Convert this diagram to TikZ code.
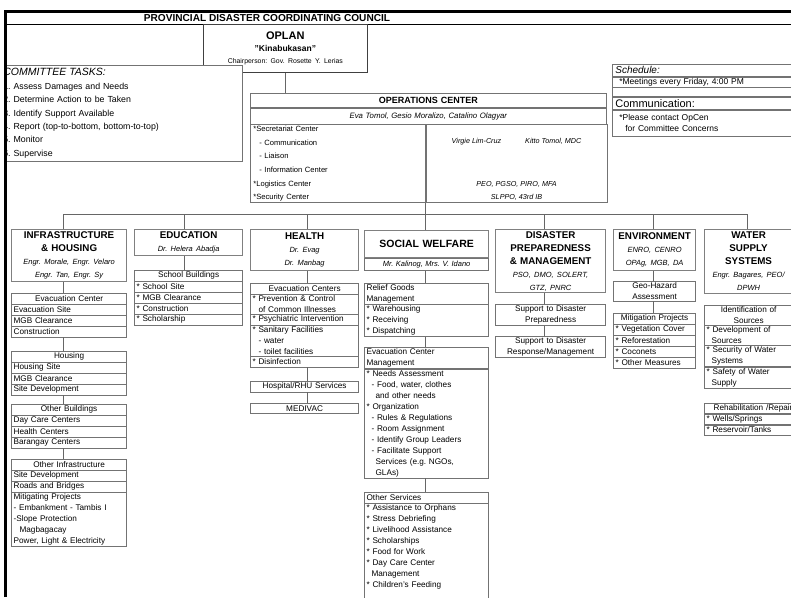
\documentclass[tikz,border=0pt]{standalone}
\usepackage{fontspec}
\setmainfont{Liberation Sans}
\frenchspacing
\usetikzlibrary{positioning}
\newcommand{\whom}[1]{{\mdseries\itshape\fontsize{7.5}{12}\selectfont #1}}
\tikzset{
  cell/.style={rectangle,draw=black!55,line width=0.6pt,fill=white,inner xsep=2pt,inner ysep=1.2pt,minimum height=10.4pt,align=left,font=\fontsize{8.2}{11}\selectfont},
  cellc/.style={cell,align=center},
  dept/.style={rectangle,draw=black!50,line width=1.2pt,fill=white,inner xsep=2pt,inner ysep=1pt,align=center,font=\fontsize{9.8}{13}\selectfont\bfseries},
  panel/.style={rectangle,draw=black!55,line width=0.7pt,fill=white,inner xsep=3pt,inner ysep=1pt,anchor=north west},
  link/.style={draw=black!60,line width=0.8pt},
  colA/.style={text width=111pt},
  colB/.style={text width=104pt},
  colC/.style={text width=104pt},
  colD/.style={text width=120pt},
  colE/.style={text width=106pt},
  colF/.style={text width=78pt},
  colG/.style={text width=84pt}
}
\begin{document}
\begin{tikzpicture}[x=1pt,y=-1pt]
  \useasboundingbox (0,0) rectangle (791,597);
  \begin{scope}
  \clip (7,12) rectangle (791,597);
  % council, oplan and side panels
  \node[font=\fontsize{10.1}{12}\selectfont\bfseries] (title) at (267,18) {PROVINCIAL DISASTER COORDINATING COUNCIL};
  \draw[line width=0.8pt] (7,24) -- (791,24);
  \node[panel,draw=black!75,text width=158pt,minimum height=48pt,align=center] (oplan) at (203,24)
    {{\fontsize{11}{14}\selectfont\bfseries OPLAN}\\{\fontsize{8.5}{14}\selectfont\bfseries "Kinabukasan"}\\{\fontsize{6.9}{14}\selectfont Chairperson: Gov. Rosette Y. Lerias}};
  \node[panel,text width=236pt,minimum height=96pt,align=left,font=\fontsize{8.8}{13.4}\selectfont] (tasks) at (0,65)
    {{\itshape\fontsize{10.5}{13.4}\selectfont COMMITTEE TASKS:}\\1. Assess Damages and Needs\\2. Determine Action to be Taken\\3. Identify Support Available\\4. Report (top-to-bottom, bottom-to-top)\\5. Monitor\\6. Supervise};
  \node[panel,text width=182pt,minimum height=12pt,align=left,font=\fontsize{10}{12}\selectfont\itshape] (sched) at (612,64) {Schedule:};
  \node[panel,below=0pt of sched,text width=182pt,minimum height=10pt,align=left,font=\fontsize{8.5}{10}\selectfont] (meet) {\hspace*{4pt}*Meetings every Friday, 4:00 PM};
  \node[panel,below=0pt of meet,text width=182pt,minimum height=9pt] (schedgap) {};
  \node[panel,below=0pt of schedgap,text width=182pt,minimum height=12pt,align=left,font=\fontsize{11}{12}\selectfont] (comm) {Communication:};
  \node[panel,below=0pt of comm,text width=182pt,minimum height=26pt,align=left,font=\fontsize{8.5}{10.5}\selectfont] (commnote) {\hspace*{4pt}*Please contact OpCen\\\hspace*{10pt}for Committee Concerns};

  % operations center
  \node[panel,text width=350pt,minimum height=14pt,align=center,font=\fontsize{9}{11}\selectfont\bfseries] (opshead) at (250,93) {OPERATIONS CENTER};
  \node[panel,below=0pt of opshead,text width=350pt,minimum height=16pt,align=center,font=\fontsize{7.8}{10}\selectfont\itshape] (opsnames) {Eva Tomol, Gesio Moralizo, Catalino Olagyar};
  \node[panel,text width=169pt,minimum height=78pt,align=left,font=\fontsize{7.6}{13.6}\selectfont] (opsleft) at (opsnames.south west)
    {*Secretariat Center\\\hspace*{6pt}- Communication\\\hspace*{6pt}- Liaison\\\hspace*{6pt}- Information Center\\{*}Logistics Center\\{*}Security Center};
  \node[panel,text width=175pt,minimum height=78pt] (opsright) at (opsleft.north east) {};
  \node[font=\fontsize{7.2}{13.4}\selectfont\itshape] (staff) at ([yshift=-17pt]opsright.north) {Virgie Lim-Cruz\hspace{24pt}Kitto Tomol, MDC};
  \node[align=center,font=\fontsize{7.2}{13.4}\selectfont\itshape] (agency) at ([yshift=12pt]opsright.south) {PEO, PGSO, PIRO, MFA\\SLPPO, 43rd IB};
  \draw[link] (oplan.south) -- (oplan.south |- opshead.north);

  % committees
  \node[dept,colA,anchor=north west,minimum height=52pt] (infra) at (11,229) {INFRASTRUCTURE\\\& HOUSING\\\whom{Engr. Morale, Engr. Velaro}\\\whom{Engr. Tan, Engr. Sy}};
  \node[dept,colB,anchor=north west,minimum height=26pt] (edu) at (134,229) {EDUCATION\\\whom{Dr. Helera Abadja}};
  \node[dept,colC,anchor=north west,minimum height=41pt] (health) at (250,229) {HEALTH\\\whom{Dr. Evag}\\\whom{Dr. Manbag}};
  \node[dept,colD,anchor=north west,minimum height=27pt,font=\fontsize{10.5}{13}\selectfont\bfseries] (social) at (364,230) {SOCIAL WELFARE};
  \node[dept,colE,anchor=north west,minimum height=63pt] (dpm) at (495,229) {DISASTER\\PREPAREDNESS\\\& MANAGEMENT\\\whom{PSO, DMO, SOLERT,}\\\whom{GTZ, PNRC}};
  \node[dept,colF,anchor=north west,minimum height=41pt] (env) at (613,229) {ENVIRONMENT\\\whom{ENRO, CENRO}\\\whom{OPAg, MGB, DA}};
  \node[dept,colG,anchor=north west,minimum height=64pt] (water) at (704,229) {WATER\\SUPPLY\\SYSTEMS\\\whom{Engr. Bagares, PEO/}\\\whom{DPWH}};

  % infrastructure and housing
  \node[cellc,colA,below=11pt of infra] (evac) {Evacuation Center};
  \node[cell,colA,below=0pt of evac] (evsite) {Evacuation Site};
  \node[cell,colA,below=0pt of evsite] (evmgb) {MGB Clearance};
  \node[cell,colA,below=0pt of evmgb] (evcons) {Construction};
  \node[cellc,colA,below=14pt of evcons] (hous) {Housing};
  \node[cell,colA,below=0pt of hous] (houssite) {Housing Site};
  \node[cell,colA,below=0pt of houssite] (housmgb) {MGB Clearance};
  \node[cell,colA,below=0pt of housmgb] (housdev) {Site Development};
  \node[cellc,colA,below=9pt of housdev] (bldg) {Other Buildings};
  \node[cell,colA,below=0pt of bldg] (bldgdc) {Day Care Centers};
  \node[cell,colA,below=0pt of bldgdc] (bldghc) {Health Centers};
  \node[cell,colA,below=0pt of bldghc] (bldgbc) {Barangay Centers};
  \node[cellc,colA,below=11pt of bldgbc] (infr) {Other Infrastructure};
  \node[cell,colA,below=0pt of infr] (infrsite) {Site Development};
  \node[cell,colA,below=0pt of infrsite] (infrroad) {Roads and Bridges};
  \node[cell,colA,below=0pt of infrroad] (infrmit) {Mitigating Projects\\- Embankment - Tambis I\\-Slope Protection\\\hspace*{6pt}Magbagacay\\Power, Light \& Electricity};

  % education
  \node[cellc,colB,below=14pt of edu] (school) {School Buildings};
  \node[cell,colB,below=0pt of school] (schsite) {* School Site};
  \node[cell,colB,below=0pt of schsite] (schmgb) {* MGB Clearance};
  \node[cell,colB,below=0pt of schmgb] (schcons) {* Construction};
  \node[cell,colB,below=0pt of schcons] (schschol) {* Scholarship};

  % health
  \node[cellc,colC,below=12pt of health] (hevac) {Evacuation Centers};
  \node[cell,colC,below=0pt of hevac] (hprev) {* Prevention \& Control\\\hspace*{6pt}of Common Illnesses};
  \node[cell,colC,below=0pt of hprev] (hpsy) {* Psychiatric Intervention};
  \node[cell,colC,below=0pt of hpsy] (hsan) {* Sanitary Facilities\\\hspace*{6pt}- water\\\hspace*{6pt}- toilet facilities};
  \node[cell,colC,below=0pt of hsan] (hdis) {* Disinfection};
  \node[cellc,colC,below=14pt of hdis] (hosp) {Hospital/RHU Services};
  \node[cellc,colC,below=11pt of hosp,minimum height=10pt] (medivac) {MEDIVAC};

  % social welfare
  \node[cellc,colD,below=0pt of social,minimum height=12pt,font=\fontsize{7.5}{10}\selectfont\itshape] (socnames) {Mr. Kalinog, Mrs. V. Idano};
  \node[cell,colD,below=12pt of socnames] (relief) {Relief Goods\\Management};
  \node[cell,colD,below=0pt of relief] (reliefbody) {* Warehousing\\{*} Receiving\\{*} Dispatching};
  \node[cell,colD,below=10pt of reliefbody] (evcm) {Evacuation Center\\Management};
  \node[cell,colD,below=0pt of evcm] (evcmbody) {* Needs Assessment\\\hspace*{5pt}- Food, water, clothes\\\hspace*{9pt}and other needs\\{*} Organization\\\hspace*{5pt}- Rules \& Regulations\\\hspace*{5pt}- Room Assignment\\\hspace*{5pt}- Identify Group Leaders\\\hspace*{5pt}- Facilitate Support\\\hspace*{9pt}Services (e.g. NGOs,\\\hspace*{9pt}GLAs)};
  \node[cell,colD,below=14pt of evcmbody] (othsrv) {Other Services};
  \node[cell,colD,below=0pt of othsrv] (othbody) {* Assistance to Orphans\\{*} Stress Debriefing\\{*} Livelihood Assistance\\{*} Scholarships\\{*} Food for Work\\{*} Day Care Center\\\hspace*{5pt}Management\\{*} Children's Feeding\\\mbox{}};

  % disaster preparedness
  \node[cellc,colE,below=11pt of dpm] (suppprep) {Support to Disaster\\Preparedness};
  \node[cellc,colE,below=10pt of suppprep] (supprsp) {Support to Disaster\\Response/Management};

  % environment
  \node[cellc,colF,below=10pt of env] (geo) {Geo-Hazard\\Assessment};
  \node[cellc,colF,below=12pt of geo] (mitig) {Mitigation Projects};
  \node[cell,colF,below=0pt of mitig] (mitveg) {* Vegetation Cover};
  \node[cell,colF,below=0pt of mitveg] (mitref) {* Reforestation};
  \node[cell,colF,below=0pt of mitref] (mitcoco) {* Coconets};
  \node[cell,colF,below=0pt of mitcoco] (mitoth) {* Other Measures};

  % water supply
  \node[cellc,colG,below=11pt of water] (ident) {Identification of\\Sources};
  \node[cell,colG,below=0pt of ident] (identdev) {* Development of\\\hspace*{5pt}Sources};
  \node[cell,colG,below=0pt of identdev] (identsec) {* Security of Water\\\hspace*{5pt}Systems};
  \node[cell,colG,below=0pt of identsec] (identsaf) {* Safety of Water\\\hspace*{5pt}Supply};
  \node[cell,colG,below=14pt of identsaf] (rehab) {\hspace*{7pt}\mbox{Rehabilitation /Repair}};
  \node[cell,colG,below=0pt of rehab] (rehwell) {* Wells/Springs};
  \node[cell,colG,below=0pt of rehwell] (rehres) {* Reservoir/Tanks};

  % bus and drops
  \coordinate (busA) at (63,214);
  \coordinate (busB) at (184,214);
  \coordinate (busC) at (307,214);
  \coordinate (busD) at (opsleft.south east |- busA);
  \coordinate (busE) at (544,214);
  \coordinate (busF) at (653,214);
  \coordinate (busG) at (747,214);
  \draw[link] (busA) -- (busG);
  \draw[link] (opsleft.south east) -- (busD);
  \foreach \b/\n in {busA/infra,busB/edu,busC/health,busD/social,busE/dpm,busF/env,busG/water}
    \draw[link] (\b) -- (\b |- \n.north);
  \foreach \x/\a/\b in {busA/infra/evac,busA/evcons/hous,busA/housdev/bldg,busA/bldgbc/infr,
      busB/edu/school,busC/health/hevac,busC/hdis/hosp,busC/hosp/medivac,
      busD/socnames/relief,busD/reliefbody/evcm,busD/evcmbody/othsrv,
      busE/dpm/suppprep,busE/suppprep/supprsp,busF/env/geo,busF/geo/mitig}
    \draw[link] (\a.south -| \x) -- (\b.north -| \x);
  \end{scope}
  % frame
  \draw[line width=3pt] (5.5,597) -- (5.5,11.5) -- (791,11.5);
\end{tikzpicture}
\end{document}
